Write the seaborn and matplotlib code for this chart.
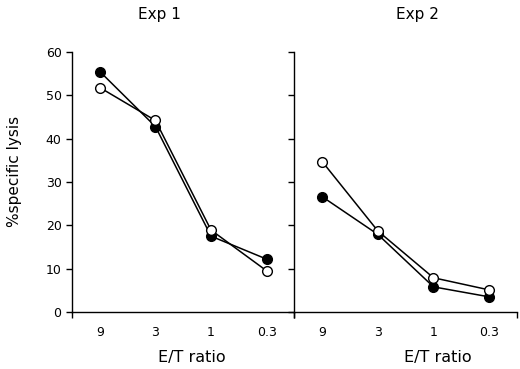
import numpy as np
import pandas as pd
import seaborn as sns
import matplotlib
matplotlib.use('Agg')
import matplotlib.pyplot as plt

# данные
ratios = ['9', '3', '1', '0.3']
titles = ['Exp 1', 'Exp 2']
exp1_filled = [55.5, 42.8, 17.5, 12.2]
exp1_open = [51.8, 44.2, 18.9, 9.5]
exp2_filled = [26.6, 17.9, 5.8, 3.5]
exp2_open = [34.7, 18.7, 7.9, 5.1]

sns.set_style('ticks')
plt.rcParams['font.family'] = ['DejaVu Sans']
plt.rcParams['text.color'] = 'black'
plt.rcParams['axes.labelcolor'] = 'black'
plt.rcParams['xtick.color'] = 'black'
plt.rcParams['ytick.color'] = 'black'
plt.rcParams['axes.edgecolor'] = 'black'

fig, axes = plt.subplots(1, 2, figsize=(5.2, 3.69), dpi=100, sharey=True)
fig.subplots_adjust(left=0.1385, right=0.994, bottom=0.1545, top=0.859, wspace=0)

pos = np.arange(len(ratios)) + 0.5
panels = [(exp1_filled, exp1_open), (exp2_filled, exp2_open)]
title_x = [0.395, 0.554]
xlabel_x = [0.54, 0.644]

for i, ax in enumerate(axes):
    filled, opened = panels[i]
    sns.lineplot(x=pos, y=filled, ax=ax, color='black', lw=1.1, marker='o',
                 markersize=7, markerfacecolor='black', markeredgecolor='black',
                 markeredgewidth=1.0, zorder=3)
    sns.lineplot(x=pos, y=opened, ax=ax, color='black', lw=1.1, marker='o',
                 markersize=7, markerfacecolor='white', markeredgecolor='black',
                 markeredgewidth=1.0, zorder=4)
    ax.set_xlim(0, len(ratios))
    ax.set_ylim(0, 60)
    ax.set_xticks([0, len(ratios)])
    ax.set_xticklabels([])
    ax.set_xticks(pos, minor=True)
    ax.set_xticklabels(ratios, minor=True, fontsize=9)
    ax.tick_params(axis='x', which='minor', length=0, pad=10)
    ax.tick_params(axis='x', which='major', length=4, width=1, direction='out')
    ax.set_yticks(np.arange(0, 61, 10))
    ax.tick_params(axis='y', length=4, width=1, direction='out', labelsize=9)
    ax.set_xlabel('E/T ratio', fontsize=11.5)
    ax.xaxis.set_label_coords(xlabel_x[i], -0.145)
    ax.set_title(titles[i], fontsize=11, pad=24, x=title_x[i])
    for s in ['top', 'right']:
        ax.spines[s].set_visible(False)
    ax.spines['left'].set_linewidth(1)
    ax.spines['bottom'].set_linewidth(1)

axes[0].set_ylabel('%specific lysis', fontsize=11)
axes[0].yaxis.set_label_coords(-0.225, 0.54)
axes[1].tick_params(axis='y', labelleft=False)

fig.savefig('out.png', dpi=100)
